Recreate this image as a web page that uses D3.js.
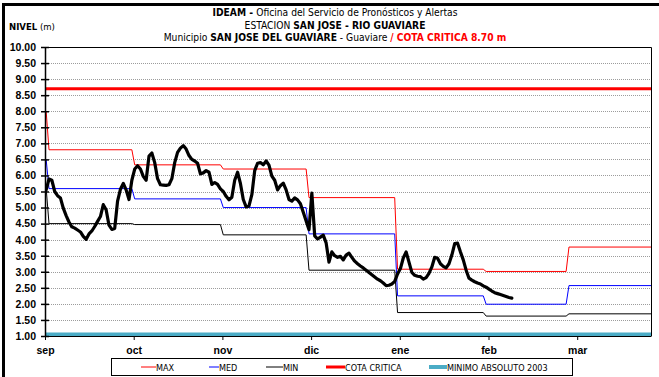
<!DOCTYPE html>
<html>
<head>
<meta charset="utf-8">
<script src="https://cdn.jsdelivr.net/npm/d3@7/dist/d3.min.js"></script>
<style>
  html, body { margin: 0; padding: 0; background: #fff; }
  svg { display: block; }
  .narrow { font-family: 'Liberation Sans Narrow', 'Arial Narrow', 'DejaVu Sans Condensed', sans-serif; }
  .arial { font-family: 'Liberation Sans', Arial, sans-serif; }
</style>
</head>
<body>
<svg id="chart" width="659" height="377"></svg>
<script>
// Daily water level (m), station San Jose - Rio Guaviare, from 2003-08-31
const nivelInicio = "2003-08-31";
const nivelDiario = [
  5.55, 5.89, 5.85, 5.50, 5.37, 5.30, 4.98, 4.75, 4.55, 4.40,
  4.36, 4.30, 4.24, 4.10, 4.01, 4.18, 4.27, 4.41, 4.57, 4.72,
  5.09, 4.93, 4.45, 4.32, 4.35, 5.20, 5.57, 5.75, 5.55, 5.25,
  5.85, 6.20, 6.30, 6.20, 5.97, 5.85, 6.60, 6.70, 6.40, 5.90,
  5.71, 5.70, 5.69, 5.71, 5.90, 6.40, 6.72, 6.85, 6.93, 6.82,
  6.62, 6.50, 6.45, 6.38, 6.05, 6.08, 6.15, 6.10, 5.72, 5.78,
  5.72, 5.58, 5.50, 5.35, 5.24, 5.32, 5.85, 6.10, 5.75, 5.25,
  5.02, 5.05, 5.40, 6.15, 6.38, 6.40, 6.33, 6.45, 6.32, 5.98,
  5.85, 5.55, 5.68, 5.76, 5.55, 5.25, 5.20, 5.30, 5.24, 5.12,
  4.85, 4.58, 4.31, 5.45, 4.12, 4.02, 4.08, 4.14, 3.90, 3.30,
  3.62, 3.50, 3.45, 3.48, 3.37, 3.52, 3.58, 3.45, 3.33, 3.25,
  3.18, 3.12, 3.05, 2.98, 2.91, 2.84, 2.77, 2.72, 2.65, 2.57,
  2.58, 2.62, 2.70, 2.93, 3.10, 3.43, 3.62, 3.30, 2.98, 2.89,
  2.86, 2.85, 2.77, 2.82, 2.95, 3.15, 3.45, 3.42, 3.25, 3.17,
  3.12, 3.25, 3.52, 3.88, 3.89, 3.62, 3.37, 3.05, 2.80, 2.74,
  2.69, 2.65, 2.62, 2.56, 2.52, 2.46, 2.40, 2.35, 2.32, 2.29,
  2.26, 2.23, 2.20, 2.18
];

// Monthly historical statistics (m), preceded by the level of the day before the record
const meses    = ["2003-09", "2003-10", "2003-11", "2003-12", "2004-01", "2004-02", "2004-03"];
const nivelMax = [6.80, 6.33, 6.20, 5.31, 3.08, 3.01, 3.77];
const nivelMed = [5.59, 5.27, 5.00, 4.18, 2.25, 1.99, 2.57];
const nivelMin = [4.50, 4.47, 4.15, 3.05, 1.73, 1.62, 1.69];
const inicioMax = 8.00, inicioMed = 6.50, inicioMin = 5.60;

const cotaCritica = 8.70;
const minimoAbsoluto = 1.05;

const mesEtiquetas = ["sep", "oct", "nov", "dic", "ene", "feb", "mar"];
const yTicks = [1.0, 1.5, 2.0, 2.5, 3.0, 3.5, 4.0, 4.5, 5.0, 5.5, 6.0, 6.5, 7.0, 7.5, 8.0, 8.5, 9.0, 9.5, 10.0];

const svg = d3.select("#chart");
const L = 45, R = 651, T = 47, B = 336;

const parseDay = d3.timeParse("%Y-%m-%d");
const parseMonth = d3.timeParse("%Y-%m");

const x = d3.scaleTime()
  .domain([new Date(2003, 7, 30, 14, 24), new Date(2004, 2, 29, 17, 0)])
  .range([L, R]);
const xMes = d3.scaleLinear().domain([0, (R - L) / 88.7]).range([L, R]);
const y = d3.scaleLinear().domain([1, 10]).range([B, T]);

svg.append("rect").attr("x", 0).attr("y", 0).attr("width", 659).attr("height", 377).attr("fill", "#fff");

// gridlines
svg.append("g").selectAll("line")
  .data(yTicks.filter(v => v > 1 && v < 10))
  .join("line")
  .attr("x1", L + 4).attr("x2", R)
  .attr("y1", d => Math.round(y(d)) + 0.5).attr("y2", d => Math.round(y(d)) + 0.5)
  .attr("stroke", "#9c9c9c").attr("stroke-width", 1).attr("stroke-dasharray", "1,1");

// plot border (top & right)
svg.append("path")
  .attr("d", `M${L},${T + 0.5}H${R + 0.5}V${B}`)
  .attr("fill", "none").attr("stroke", "#000").attr("stroke-width", 1);

svg.append("clipPath").attr("id", "plotclip")
  .append("rect").attr("x", L).attr("y", T).attr("width", R - L).attr("height", B - T);
const plot = svg.append("g").attr("clip-path", "url(#plotclip)");

// step series built from monthly values
function pasos(inicio, valores) {
  const pts = [{ f: d3.timeDay.offset(parseMonth(meses[0]), -1), v: inicio }];
  meses.forEach((m, i) => {
    const a = parseMonth(m);
    const b = d3.timeDay.offset(d3.timeMonth.offset(a, 1), -1);
    pts.push({ f: a, v: valores[i] }, { f: b, v: valores[i] });
  });
  return pts;
}
const lineF = d3.line().x(d => x(d.f)).y(d => y(d.v));

plot.append("path").datum(pasos(inicioMin, nivelMin))
  .attr("d", lineF).attr("fill", "none").attr("stroke", "#000").attr("stroke-width", 1);
plot.append("path").datum(pasos(inicioMed, nivelMed))
  .attr("d", lineF).attr("fill", "none").attr("stroke", "#0000ff").attr("stroke-width", 1);
plot.append("path").datum(pasos(inicioMax, nivelMax))
  .attr("d", lineF).attr("fill", "none").attr("stroke", "#ff0000").attr("stroke-width", 1);

// critical level
plot.append("line")
  .attr("x1", L).attr("x2", R).attr("y1", y(cotaCritica)).attr("y2", y(cotaCritica))
  .attr("stroke", "#ff0000").attr("stroke-width", 3);

// observed daily level
const inicio = parseDay(nivelInicio);
const serie = nivelDiario.map((v, i) => ({ f: d3.timeDay.offset(inicio, i), v }));
plot.append("path").datum(serie)
  .attr("d", lineF).attr("fill", "none").attr("stroke", "#000")
  .attr("stroke-width", 3.2).attr("stroke-linejoin", "round").attr("stroke-linecap", "round");

// absolute minimum 2003
svg.append("line")
  .attr("x1", L).attr("x2", R).attr("y1", y(minimoAbsoluto)).attr("y2", y(minimoAbsoluto))
  .attr("stroke", "#4bacc6").attr("stroke-width", 4);

// y axis
const yAxis = d3.axisLeft(y).tickValues(yTicks).tickFormat(d3.format(".2f")).tickSizeInner(4).tickSizeOuter(0).tickPadding(4);
const gy = svg.append("g").attr("transform", `translate(${L},0)`).call(yAxis);
gy.select(".domain").attr("stroke-width", 1.5);
gy.selectAll(".tick line").attr("x2", -4).attr("x1", 4).attr("stroke-width", 1.5);
gy.selectAll(".tick text")
  .attr("class", "arial").attr("font-size", 10.5).attr("font-weight", "bold").attr("fill", "#000").attr("x", -9);

// x axis (monthly)
const xAxis = d3.axisBottom(xMes).tickValues(d3.range(mesEtiquetas.length)).tickFormat(i => mesEtiquetas[i])
  .tickSizeInner(4).tickSizeOuter(0).tickPadding(7);
const gx = svg.append("g").attr("transform", `translate(0,${B})`).call(xAxis);
gx.select(".domain").attr("stroke-width", 1);
gx.selectAll(".tick text").attr("class", "arial").attr("font-size", 10.5).attr("font-weight", "bold").attr("fill", "#000");

// titles
const t = svg.append("g").attr("class", "narrow").attr("text-anchor", "middle").attr("font-size", 10.2).attr("fill", "#000");
const t1 = t.append("text").attr("x", 335).attr("y", 16);
t1.append("tspan").attr("font-weight", "bold").text("IDEAM - ");
t1.append("tspan").text("Oficina del Servicio de Pronósticos y Alertas");
const t2 = t.append("text").attr("x", 335).attr("y", 28.5);
t2.append("tspan").text("ESTACION ");
t2.append("tspan").attr("font-weight", "bold").text("SAN JOSE - RIO GUAVIARE");
const t3 = t.append("text").attr("x", 335).attr("y", 41);
t3.append("tspan").text("Municipio ");
t3.append("tspan").attr("font-weight", "bold").text("SAN JOSE DEL GUAVIARE");
t3.append("tspan").text(" - Guaviare  ");
t3.append("tspan").attr("font-weight", "bold").attr("fill", "#ff0000").text("/ COTA CRITICA 8.70 m");

const nv = svg.append("text").attr("class", "narrow").attr("x", 9).attr("y", 30).attr("font-size", 9.5);
nv.append("tspan").attr("font-weight", "bold").text("NIVEL");
nv.append("tspan").text(" (m)");

// legend
const leg = svg.append("g");
leg.append("rect").attr("x", 111.5).attr("y", 358.5).attr("width", 461).attr("height", 17)
  .attr("fill", "#fff").attr("stroke", "#000").attr("stroke-width", 1);
const items = [
  { n: "MAX", c: "#ff0000", w: 1, x0: 141, x1: 156 },
  { n: "MED", c: "#0000ff", w: 1, x0: 209, x1: 219 },
  { n: "MIN", c: "#000", w: 1, x0: 266, x1: 283 },
  { n: "COTA CRITICA", c: "#ff0000", w: 3, x0: 326, x1: 345 },
  { n: "MINIMO ABSOLUTO 2003", c: "#4bacc6", w: 4, x0: 429, x1: 447 }
];
const li = leg.selectAll("g.item").data(items).join("g").attr("class", "item");
li.append("line").attr("x1", d => d.x0).attr("x2", d => d.x1).attr("y1", 367).attr("y2", 367)
  .attr("stroke", d => d.c).attr("stroke-width", d => d.w);
li.append("text").attr("class", "narrow").attr("x", d => d.x1).attr("y", 370.5)
  .attr("font-size", 9).attr("fill", "#000").text(d => d.n);

// page frame
svg.append("path").attr("d", "M3.5,377V4.5H659").attr("fill", "none").attr("stroke", "#000").attr("stroke-width", 3);
</script>
</body>
</html>
